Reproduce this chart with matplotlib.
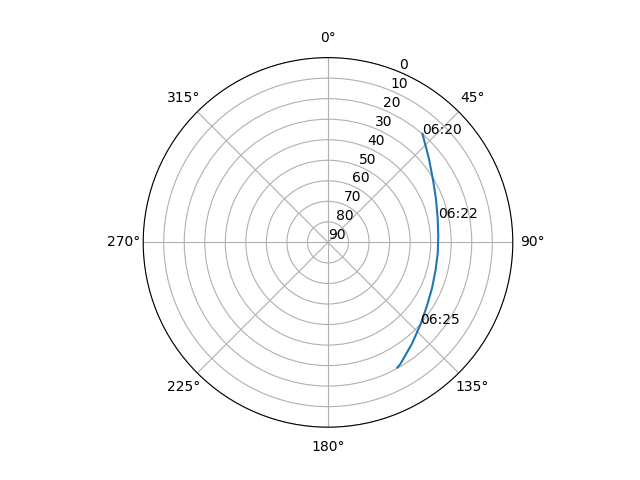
import numpy as np
import matplotlib
matplotlib.use('agg')
import matplotlib.pyplot as plt

# pass track, sampled every 30 s from 06:20:00
times = ["06:20:00", "06:20:30", "06:21:00", "06:21:30", "06:22:00", "06:22:30",
         "06:23:00", "06:23:30", "06:24:00", "06:24:30", "06:25:00", "06:25:30",
         "06:26:00", "06:26:06"]
azimuth = [41.0, 50.1, 59.3, 68.4, 77.5, 86.5, 95.5, 104.5, 113.5, 122.5,
           131.5, 140.4, 149.2, 151.0]
elevation = [19.9, 26.0, 30.5, 33.4, 35.3, 36.2, 36.3, 35.9, 34.7, 32.8,
             29.8, 25.9, 21.1, 20.3]
labelled = ["06:20:00", "06:22:00", "06:25:00"]

fig = plt.figure(figsize=(6.4, 4.8), dpi=100)
ax = fig.add_subplot(111, projection='polar')
ax.set_theta_zero_location('N')
ax.set_theta_direction(-1)
ax.set_ylim(90, 0)
ax.set_yticks(range(0, 91, 10))

theta = np.radians(azimuth)
ax.plot(theta, elevation)

for t in labelled:
    i = times.index(t)
    ax.text(theta[i], elevation[i], t[:5])

fig.savefig("out.png")
